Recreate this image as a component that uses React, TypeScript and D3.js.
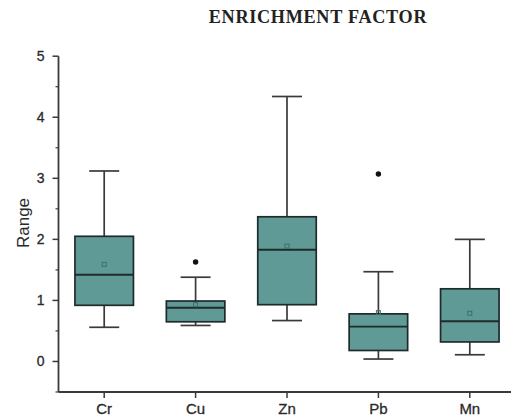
import React from 'react';
import * as d3 from 'd3';

const categories = ['Cr', 'Cu', 'Zn', 'Pb', 'Mn'];
const lowWhisker = [0.56, 0.59, 0.67, 0.04, 0.11];
const q1 = [0.92, 0.65, 0.93, 0.18, 0.32];
const median = [1.42, 0.88, 1.83, 0.57, 0.66];
const q3 = [2.05, 0.99, 2.37, 0.78, 1.19];
const highWhisker = [3.12, 1.38, 4.34, 1.47, 2.0];
const means = [1.59, 0.93, 1.89, 0.8, 0.79];
const outliers = [[], [1.63], [], [3.07], []];
const yTicks = [0, 1, 2, 3, 4, 5];
const yMinorTicks = [-0.5, 0.5, 1.5, 2.5, 3.5, 4.5];

const App = () => {
  const width = 511;
  const height = 420;
  const left = 58.5;
  const bottom = 392;
  const x = d3.scaleBand().domain(categories).range([left, left + 5 * 91.4]).padding(0);
  const y = d3.scaleLinear().domain([-0.5, 5]).range([bottom, 56.2]);
  const boxW = 58.5;
  const capW = 30;
  const fill = '#5f9a96';
  const edge = '#1f2a2a';
  const axisColor = '#3a3a3a';
  const sans = "'Liberation Sans', Arial, sans-serif";
  const cx = (c: string) => (x(c) as number) + x.bandwidth() / 2;

  return (
    <svg width={width} height={height} style={{ position: 'absolute', left: 0, top: 0 }}>
      <rect width={width} height={height} fill="#fff" />
      <text x={318} y={23} textAnchor="middle" fontFamily="'Liberation Serif', 'DejaVu Serif', serif" fontWeight="bold" fontSize={18.2} letterSpacing={0.7} fill="#222">
        ENRICHMENT FACTOR
      </text>

      {/* axes */}
      <line x1={left} x2={left} y1={y(5)} y2={bottom} stroke={axisColor} strokeWidth={1.8} />
      <line x1={left} x2={width} y1={bottom} y2={bottom} stroke={axisColor} strokeWidth={1.8} />
      {yTicks.map(t => (
        <g key={'t' + t}>
          <line x1={left - 6} x2={left} y1={y(t)} y2={y(t)} stroke={axisColor} strokeWidth={1.5} />
          <text x={44.5} y={y(t) + 5} textAnchor="end" fontFamily={sans} fontSize={14} fill="#2a2a2a" stroke="#2a2a2a" strokeWidth={0.3}>
            {t}
          </text>
        </g>
      ))}
      {yMinorTicks.map(t => (
        <line key={'m' + t} x1={left - 3} x2={left} y1={y(t)} y2={y(t)} stroke={axisColor} strokeWidth={1.2} />
      ))}
      {categories.map(c => (
        <g key={'x' + c}>
          <line x1={cx(c)} x2={cx(c)} y1={bottom} y2={bottom + 6} stroke={axisColor} strokeWidth={1.5} />
          <text x={cx(c)} y={414} textAnchor="middle" fontFamily={sans} fontSize={15} fill="#2a2a2a" stroke="#2a2a2a" strokeWidth={0.3}>
            {c}
          </text>
        </g>
      ))}
      <text transform={`translate(29,223) rotate(-90)`} textAnchor="middle" fontFamily={sans} fontSize={17} fill="#2a2a2a">
        Range
      </text>

      {/* boxes */}
      {categories.map((c, i) => {
        const m = cx(c);
        return (
          <g key={'b' + c}>
            <line x1={m} x2={m} y1={y(highWhisker[i])} y2={y(q3[i])} stroke="#3a3a3a" strokeWidth={1.7} />
            <line x1={m} x2={m} y1={y(q1[i])} y2={y(lowWhisker[i])} stroke="#3a3a3a" strokeWidth={1.7} />
            <line x1={m - capW / 2} x2={m + capW / 2} y1={y(highWhisker[i])} y2={y(highWhisker[i])} stroke="#3a3a3a" strokeWidth={1.7} />
            <line x1={m - capW / 2} x2={m + capW / 2} y1={y(lowWhisker[i])} y2={y(lowWhisker[i])} stroke="#3a3a3a" strokeWidth={1.7} />
            <rect x={m - boxW / 2} y={y(q3[i])} width={boxW} height={y(q1[i]) - y(q3[i])} fill={fill} stroke={edge} strokeWidth={1.7} />
            <line x1={m - boxW / 2} x2={m + boxW / 2} y1={y(median[i])} y2={y(median[i])} stroke={edge} strokeWidth={1.9} />
            <rect x={m - 2} y={y(means[i]) - 2} width={4} height={4} fill="none" stroke="#3f6e6a" strokeWidth={1} />
            {outliers[i].map((o, j) => (
              <circle key={j} cx={m} cy={y(o)} r={2.7} fill="#111" />
            ))}
          </g>
        );
      })}
    </svg>
  );
};

export default App;
